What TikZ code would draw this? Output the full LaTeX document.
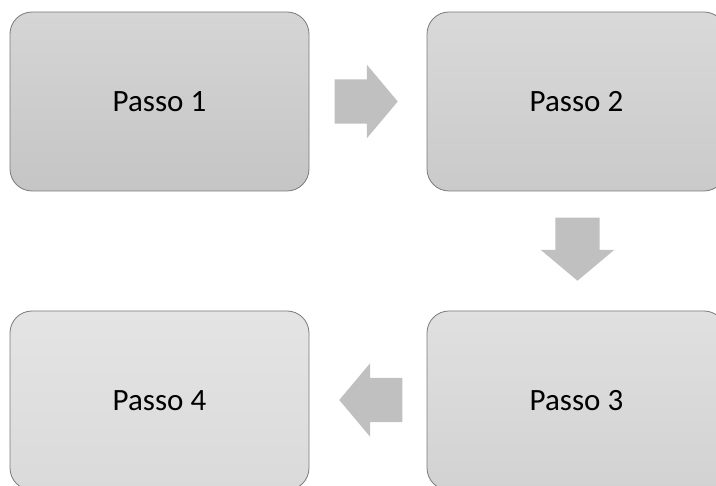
\documentclass[tikz,border=0pt]{standalone}
\usepackage{fontspec}
\setmainfont{Carlito}
\usetikzlibrary{shapes.arrows}

\definecolor{edgegray}{HTML}{7A7A7A}
\definecolor{arrowgray}{HTML}{C0C0C0}

\tikzset{
  stepbox/.style={draw=edgegray,line width=0.8pt,rounded corners=22pt,
    minimum width=299pt,minimum height=179pt,inner sep=0pt,
    font=\fontsize{31}{37}\selectfont},
  flowarrow/.style={single arrow,fill=arrowgray,draw=none,inner sep=22pt,
    minimum height=63pt,single arrow head extend=14.5pt,
    single arrow tip angle=100,anchor=tip}
}

\begin{document}
\begin{tikzpicture}[x=1pt,y=-1pt]
  \clip (0,0) rectangle (716,486);

  \node at (159.5,101.5) [stepbox,top color={rgb,255:red,213;green,213;blue,213},
    bottom color={rgb,255:red,197;green,197;blue,197}] (passo1) {Passo 1};
  \node at (576.5,101.5) [stepbox,top color={rgb,255:red,217;green,217;blue,217},
    bottom color={rgb,255:red,202;green,202;blue,202}] (passo2) {Passo 2};
  \node at (576.5,400.5) [stepbox,top color={rgb,255:red,224;green,224;blue,224},
    bottom color={rgb,255:red,210;green,210;blue,210}] (passo3) {Passo 3};
  \node at (159.5,400.5) [stepbox,top color={rgb,255:red,228;green,228;blue,228},
    bottom color={rgb,255:red,218;green,218;blue,218}] (passo4) {Passo 4};

  \node at (398,101.5) [flowarrow] (seta12) {};
  \node at (577.5,281) [flowarrow,shape border rotate=270] (seta23) {};
  \node at (339,400) [flowarrow,shape border rotate=180] (seta34) {};
\end{tikzpicture}
\end{document}
